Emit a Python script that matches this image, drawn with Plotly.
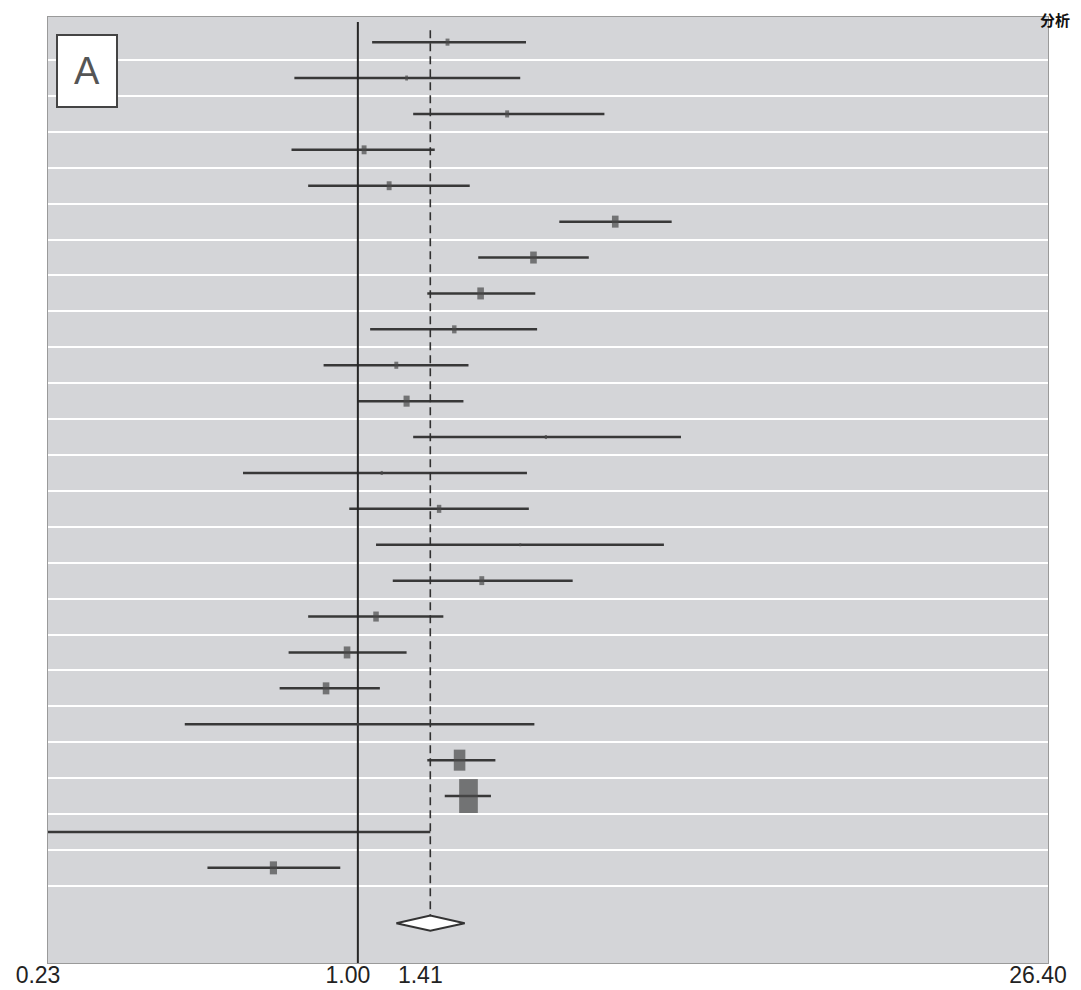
import math
import plotly.graph_objects as go

# ---- data (odds ratios, log scale) ----
study_or = [1.53, 1.26, 2.03, 1.03, 1.16, 3.39, 2.30, 1.79, 1.58, 1.20, 1.26, 2.44,
            1.12, 1.47, 2.16, 1.80, 1.09, 0.95, 0.86, 1.00, 1.62, 1.69, None, 0.67]
ci_low = [1.07, 0.74, 1.30, 0.73, 0.79, 2.60, 1.77, 1.39, 1.06, 0.85, 1.00, 1.30,
          0.58, 0.96, 1.09, 1.18, 0.79, 0.72, 0.69, 0.44, 1.39, 1.51, 0.20, 0.49]
ci_high = [2.22, 2.16, 3.22, 1.44, 1.70, 4.43, 2.99, 2.32, 2.34, 1.69, 1.65, 4.63,
           2.23, 2.25, 4.27, 2.77, 1.50, 1.26, 1.11, 2.31, 1.92, 1.88, 1.41, 0.92]
weights = [1.4, 0.7, 1.4, 2.2, 2.2, 4.0, 4.0, 4.0, 1.8, 1.4, 3.4, 0.45,
           0.45, 1.8, 0.25, 2.2, 2.8, 4.0, 4.0, 0.25, 12.3, 32.0, 0.0, 4.7]
pooled = 1.41
pooled_low = 1.20
pooled_high = 1.66
null_value = 1.00
tick_values = [0.23, 1.00, 1.41, 26.40]
tick_labels = ["0.23", "1.00", "1.41", "26.40"]

n = len(study_or)
rows = list(range(n))
diamond_row = 24.54

fig = go.Figure()

# CI lines
cx, cy = [], []
for i in rows:
    cx += [ci_low[i], ci_high[i], None]
    cy += [i, i, None]
fig.add_trace(go.Scatter(x=cx, y=cy, mode="lines",
                         line=dict(color="#383838", width=2.5),
                         hoverinfo="skip", showlegend=False))

# reference lines
fig.add_trace(go.Scatter(x=[null_value, null_value], y=[-0.56, 25.65], mode="lines",
                         line=dict(color="#262626", width=2),
                         hoverinfo="skip", showlegend=False))
fig.add_trace(go.Scatter(x=[pooled, pooled], y=[-0.33, diamond_row - 0.21], mode="lines",
                         line=dict(color="#303030", width=1.6, dash="8px,5px"),
                         hoverinfo="skip", showlegend=False))

# weight boxes
bx, by, bh, bw = [], [], [], []
for i in rows:
    if study_or[i] is None or weights[i] <= 0:
        continue
    h = 6.0 * math.sqrt(weights[i])
    w = max(2.0, 0.55 * h)
    bx.append(study_or[i])
    by.append(i)
    bh.append(h / 1.4)
    bw.append(w)
fig.add_trace(go.Scatter(x=bx, y=by, mode="markers",
                         marker=dict(symbol="line-ns", size=bh,
                                     line=dict(color="#4a4a4a", width=bw)),
                         hoverinfo="skip", showlegend=False))

# pooled diamond
fig.add_trace(go.Scatter(x=[pooled_low, pooled, pooled_high, pooled, pooled_low],
                         y=[diamond_row, diamond_row - 0.21, diamond_row,
                            diamond_row + 0.21, diamond_row],
                         mode="lines", fill="toself", fillcolor="white",
                         line=dict(color="#333333", width=2),
                         hoverinfo="skip", showlegend=False))

# the page adds an 8px body margin, so the figure is sized/offset to compensate
FW, FH = 1073, 982
L, R, T, B = 40, 33, 9, 27
fig.update_layout(
    width=FW, height=FH,
    margin=dict(l=L, r=R, t=T, b=B),
    paper_bgcolor="white",
    plot_bgcolor="#d4d5d8",
    font=dict(family="Liberation Sans, Arial, sans-serif", color="#222222"),
    xaxis=dict(type="log",
               range=[math.log10(0.23), math.log10(26.40)],
               tickmode="array", tickvals=tick_values, ticktext=tick_labels,
               showgrid=False, zeroline=False, ticks="", ticklen=0,
               tickfont=dict(size=23, color="#222222"),
               ticklabelshift=-10, ticklabelstandoff=-9,
               automargin=False,
               showline=True, linecolor="#9a9a9a", linewidth=1, mirror=True),
    yaxis=dict(range=[25.65, -0.70],
               tickmode="array", tickvals=[k + 0.5 for k in range(24)],
               showticklabels=False, ticks="",
               showgrid=True, gridcolor="white", gridwidth=1.5,
               zeroline=False, automargin=False,
               showline=True, linecolor="#9a9a9a", linewidth=1, mirror=True),
)

pw = FW - L - R
ph = FH - T - B
fig.add_annotation(text="A", xref="paper", yref="paper",
                   x=(86.5 - 8 - L) / pw, y=(ph + T - (71 - 8)) / ph,
                   xanchor="center", yanchor="middle", showarrow=False,
                   width=58, height=70, borderpad=0, borderwidth=2,
                   bordercolor="#444444", bgcolor="white",
                   font=dict(size=38, color="#555555",
                             family="Liberation Sans, Arial, sans-serif"))
fig.add_annotation(text="<b>分析</b>", xref="paper", yref="paper",
                   x=(1071 - 8 - L) / pw, y=(ph + T) / ph,
                   xanchor="right", yanchor="top", showarrow=False,
                   borderpad=0,
                   font=dict(size=15, color="#111111", family="Noto Sans CJK SC"))

fig.write_html("out.html")
